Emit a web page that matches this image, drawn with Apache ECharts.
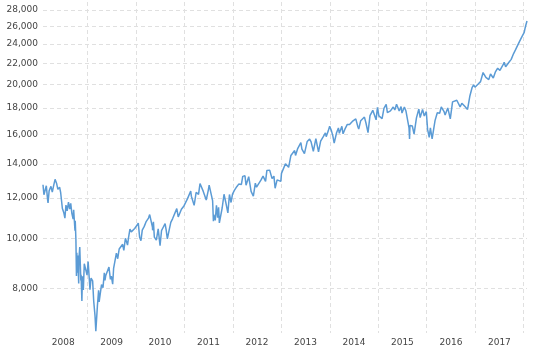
<!DOCTYPE html>
<html>
<head>
<meta charset="utf-8">
<script src="https://cdn.jsdelivr.net/npm/echarts@6/dist/echarts.min.js"></script>
<style>
  html, body { margin: 0; padding: 0; background: #fff; }
  #chart { width: 535px; height: 352px; }
</style>
</head>
<body>
<div id="chart"></div>
<script>
// closing values, [date, value]
const y2008 = [
  ['2008-02-01', 12743], ['2008-02-08', 12183], ['2008-02-14', 12240], ['2008-02-26', 12684],
  ['2008-03-07', 11894], ['2008-03-10', 11740], ['2008-03-18', 12392], ['2008-03-25', 12533],
  ['2008-04-01', 12654], ['2008-04-11', 12325], ['2008-04-22', 12720], ['2008-05-02', 13058],
  ['2008-05-13', 12832], ['2008-05-23', 12480], ['2008-06-05', 12604], ['2008-06-13', 12307],
  ['2008-06-26', 11453], ['2008-07-07', 11231], ['2008-07-15', 10962], ['2008-07-23', 11632],
  ['2008-08-01', 11326], ['2008-08-11', 11782], ['2008-08-20', 11417], ['2008-08-28', 11715],
  ['2008-09-05', 11220], ['2008-09-15', 10917], ['2008-09-19', 11388], ['2008-09-29', 10365],
  ['2008-10-01', 10831], ['2008-10-06', 9955], ['2008-10-10', 8451], ['2008-10-13', 9387],
  ['2008-10-15', 8578], ['2008-10-20', 9265], ['2008-10-27', 8175], ['2008-10-28', 9065],
  ['2008-11-04', 9625], ['2008-11-12', 8283], ['2008-11-14', 8497], ['2008-11-20', 7552],
  ['2008-11-24', 8443], ['2008-12-01', 7935], ['2008-12-08', 8934], ['2008-12-16', 8924],
  ['2008-12-29', 8483]
];
const y2009 = [
  ['2009-01-06', 9015], ['2009-01-13', 8474], ['2009-01-20', 7949], ['2009-01-28', 8375],
  ['2009-02-09', 8270], ['2009-02-17', 7552], ['2009-02-27', 7063], ['2009-03-05', 6594],
  ['2009-03-09', 6547], ['2009-03-17', 7395], ['2009-03-26', 7925], ['2009-03-30', 7522],
  ['2009-04-07', 7790], ['2009-04-17', 8131], ['2009-04-28', 8016], ['2009-05-08', 8575],
  ['2009-05-13', 8284], ['2009-05-19', 8475], ['2009-05-29', 8500], ['2009-06-12', 8799],
  ['2009-06-23', 8323], ['2009-06-30', 8447], ['2009-07-10', 8146], ['2009-07-17', 8743],
  ['2009-07-28', 9070], ['2009-08-07', 9370], ['2009-08-17', 9136], ['2009-08-28', 9544],
  ['2009-09-08', 9497], ['2009-09-23', 9749], ['2009-10-02', 9487], ['2009-10-14', 10016],
  ['2009-10-21', 9950], ['2009-10-30', 9713], ['2009-11-06', 10023], ['2009-11-17', 10437],
  ['2009-11-27', 10310], ['2009-12-09', 10337], ['2009-12-23', 10466], ['2009-12-31', 10428]
];
const y2010 = [
  ['2010-01-08', 10618], ['2010-01-19', 10725], ['2010-01-29', 10067], ['2010-02-08', 9908],
  ['2010-02-18', 10392], ['2010-03-05', 10566], ['2010-03-18', 10779], ['2010-04-06', 10969],
  ['2010-04-15', 11144], ['2010-04-26', 11205], ['2010-05-06', 10520], ['2010-05-07', 10380],
  ['2010-05-13', 10782], ['2010-05-20', 10068], ['2010-05-25', 10043], ['2010-06-04', 9931],
  ['2010-06-18', 10450], ['2010-06-21', 10443], ['2010-07-02', 9686], ['2010-07-13', 10363],
  ['2010-07-26', 10525], ['2010-08-09', 10698], ['2010-08-17', 10405], ['2010-08-26', 9985],
  ['2010-09-07', 10340], ['2010-09-21', 10761], ['2010-10-05', 10944], ['2010-10-19', 10979],
  ['2010-11-05', 11444], ['2010-11-16', 11023], ['2010-11-30', 11006], ['2010-12-10', 11410],
  ['2010-12-29', 11585]
];
const y2011 = [
  ['2011-01-10', 11637], ['2011-01-26', 11985], ['2011-02-18', 12391], ['2011-02-23', 12105],
  ['2011-03-09', 12214], ['2011-03-16', 11613], ['2011-03-31', 12320], ['2011-04-18', 12201],
  ['2011-04-29', 12811], ['2011-05-10', 12760], ['2011-05-23', 12381], ['2011-06-01', 12290],
  ['2011-06-15', 11897], ['2011-06-30', 12414], ['2011-07-07', 12719], ['2011-07-21', 12724],
  ['2011-08-02', 11867], ['2011-08-08', 10810], ['2011-08-10', 10720], ['2011-08-11', 11143],
  ['2011-08-22', 10855], ['2011-08-31', 11614], ['2011-09-09', 10992], ['2011-09-16', 11509],
  ['2011-09-22', 10733], ['2011-10-03', 10655], ['2011-10-13', 11478], ['2011-10-27', 12209],
  ['2011-11-09', 11780], ['2011-11-25', 11231], ['2011-12-07', 12196], ['2011-12-19', 11766],
  ['2011-12-30', 12218]
];
const y2012 = [
  ['2012-01-13', 12422], ['2012-01-31', 12633], ['2012-02-15', 12781], ['2012-03-06', 12760],
  ['2012-03-16', 13232], ['2012-04-02', 13264], ['2012-04-10', 12716], ['2012-04-30', 13214],
  ['2012-05-18', 12369], ['2012-06-04', 12101], ['2012-06-19', 12838], ['2012-06-28', 12602],
  ['2012-07-12', 12573], ['2012-07-31', 13009], ['2012-08-16', 13251], ['2012-09-04', 12936],
  ['2012-09-14', 13593], ['2012-10-05', 13610], ['2012-10-23', 13102], ['2012-11-06', 13245],
  ['2012-11-15', 12543], ['2012-11-30', 13026], ['2012-12-14', 13135], ['2012-12-28', 12938]
];
const y2013 = [
  ['2013-01-02', 13412], ['2013-01-16', 13511], ['2013-02-01', 14009], ['2013-02-25', 13784],
  ['2013-03-14', 14539], ['2013-04-11', 14865], ['2013-04-18', 14537], ['2013-05-03', 14973],
  ['2013-05-28', 15409], ['2013-06-05', 14961], ['2013-06-24', 14660], ['2013-07-15', 15484],
  ['2013-08-02', 15658], ['2013-08-13', 15451], ['2013-08-30', 14810], ['2013-09-18', 15677],
  ['2013-10-08', 14776], ['2013-10-24', 15509], ['2013-11-13', 15821], ['2013-11-29', 16086],
  ['2013-12-05', 15821], ['2013-12-20', 16221], ['2013-12-31', 16577]
];
const y2014 = [
  ['2014-01-13', 16257], ['2014-01-24', 15879], ['2014-02-03', 15373], ['2014-02-21', 16103],
  ['2014-03-07', 16452], ['2014-03-14', 16065], ['2014-04-02', 16573], ['2014-04-11', 16026],
  ['2014-04-25', 16361], ['2014-05-13', 16715], ['2014-05-30', 16717], ['2014-06-20', 16947],
  ['2014-07-16', 17138], ['2014-07-31', 16563], ['2014-08-07', 16368], ['2014-08-22', 17001],
  ['2014-09-19', 17280], ['2014-10-01', 16804], ['2014-10-16', 16117], ['2014-10-31', 17391],
  ['2014-11-21', 17810], ['2014-12-05', 17958], ['2014-12-16', 17068], ['2014-12-26', 18053]
];
const y2015 = [
  ['2015-01-06', 17371], ['2015-01-16', 17512], ['2015-01-30', 17165], ['2015-02-13', 17973],
  ['2015-03-02', 18288], ['2015-03-11', 17635], ['2015-03-24', 17718], ['2015-04-03', 17763],
  ['2015-04-24', 18080], ['2015-05-06', 17841], ['2015-05-19', 18312], ['2015-06-08', 17766],
  ['2015-06-22', 18120], ['2015-06-29', 17597], ['2015-07-17', 18086], ['2015-07-29', 17751],
  ['2015-08-10', 17615], ['2015-08-21', 16460], ['2015-08-25', 15666], ['2015-08-28', 16643],
  ['2015-09-15', 16600], ['2015-09-28', 16001], ['2015-10-16', 17216], ['2015-11-03', 17918],
  ['2015-11-13', 17245], ['2015-12-01', 17888], ['2015-12-14', 17368], ['2015-12-29', 17721]
];
const y2016 = [
  ['2016-01-08', 16347], ['2016-01-20', 15766], ['2016-01-29', 16466], ['2016-02-11', 15660],
  ['2016-03-04', 17007], ['2016-03-21', 17624], ['2016-04-08', 17577], ['2016-04-20', 18096],
  ['2016-05-11', 17711], ['2016-05-19', 17435], ['2016-06-08', 18005], ['2016-06-27', 17140],
  ['2016-07-14', 18506], ['2016-08-15', 18636], ['2016-09-09', 18085], ['2016-09-22', 18392],
  ['2016-10-14', 18138], ['2016-11-04', 17888], ['2016-11-22', 19023], ['2016-12-09', 19757],
  ['2016-12-20', 19975], ['2016-12-30', 19763]
];
const y2017 = [
  ['2017-01-12', 19891], ['2017-01-25', 20068], ['2017-02-10', 20269], ['2017-03-01', 21115],
  ['2017-03-22', 20661], ['2017-04-13', 20453], ['2017-04-26', 20975], ['2017-05-17', 20606],
  ['2017-06-01', 21144], ['2017-06-19', 21528], ['2017-07-06', 21320], ['2017-07-27', 21796],
  ['2017-08-07', 22118], ['2017-08-18', 21675], ['2017-08-29', 21865], ['2017-09-12', 22118],
  ['2017-09-29', 22405], ['2017-10-17', 22997], ['2017-10-31', 23377], ['2017-11-15', 23272],
  ['2017-11-30', 24272], ['2017-12-18', 24792], ['2017-12-29', 24719]
];
const y2018 = [
  ['2018-01-05', 25295], ['2018-01-12', 25803], ['2018-01-17', 26116], ['2018-01-26', 26617]
];

const yTicks = [8000, 10000, 12000, 14000, 16000, 18000, 20000, 22000, 24000, 26000, 28000];
const years = [2008, 2009, 2010, 2011, 2012, 2013, 2014, 2015, 2016, 2017];

const toTime = s => Date.parse(s + 'T00:00:00Z');
const series = [].concat(y2008, y2009, y2010, y2011, y2012, y2013, y2014, y2015, y2016, y2017, y2018)
  .map(p => [toTime(p[0]), p[1]]);

// year boundaries for grid lines, mid-year for labels
const yearStarts = years.map(y => Date.UTC(y + 1, 0, 1));
const yearMids = years.map(y => Date.UTC(y, 6, 2));

const font = 'DejaVu Sans';
const gridLine = { show: true, lineStyle: { color: '#e0e0e0', type: [4, 3], width: 1 } };

const chart = echarts.init(document.getElementById('chart'));
chart.setOption({
  animation: false,
  grid: { left: 43, right: 8, top: 2, bottom: 19, containLabel: false, outerBoundsMode: 'none' },
  xAxis: {
    type: 'value',
    min: toTime('2008-02-01'),
    max: toTime('2018-01-26'),
    axisLine: { show: false },
    axisTick: { show: false, customValues: yearStarts },
    splitLine: gridLine,
    axisLabel: {
      customValues: yearMids,
      formatter: v => String(new Date(v).getUTCFullYear()),
      color: '#444',
      fontFamily: font,
      fontSize: 9,
      margin: 5
    }
  },
  yAxis: {
    type: 'log',
    logBase: 10,
    min: 6540,
    max: 29000,
    axisLine: { show: false },
    axisTick: { show: false, customValues: yTicks },
    splitLine: gridLine,
    axisLabel: {
      customValues: yTicks,
      formatter: v => Math.round(v).toLocaleString('en-US'),
      color: '#444',
      fontFamily: font,
      fontSize: 9,
      margin: 5
    }
  },
  series: [{
    type: 'line',
    data: series,
    showSymbol: false,
    lineStyle: { color: '#5b9bd5', width: 1.5 },
    itemStyle: { color: '#5b9bd5' }
  }]
});
</script>
</body>
</html>
